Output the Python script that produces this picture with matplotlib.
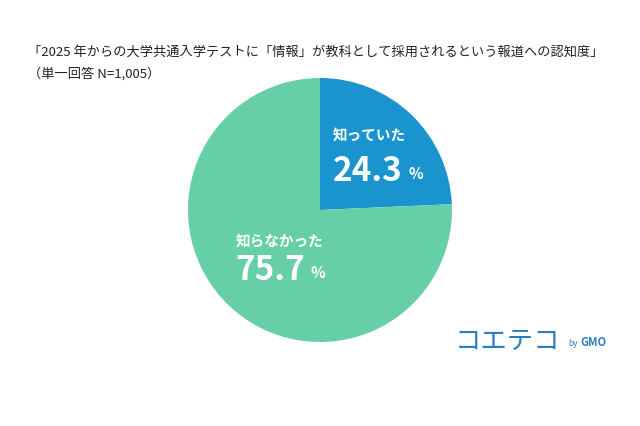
import matplotlib
matplotlib.use("Agg")
import matplotlib.pyplot as plt

labels = ["知っていた", "知らなかった"]
values = [24.3, 75.7]
colors = ["#1a94cf", "#67cfa7"]
title1 = "「2025 年からの大学共通入学テストに「情報」が教科として採用されるという報道への認知度」"
title2 = "（単一回答 N=1,005）"

plt.rcParams["font.family"] = "Noto Sans CJK JP"
fig = plt.figure(figsize=(6.4, 4.26), dpi=100)
ax = fig.add_axes([0.5 - 132/640, (426-210-132)/426, 264/640, 264/426])
ax.pie(values, colors=colors, startangle=90, counterclock=False,
       wedgeprops=dict(linewidth=0))
ax.set_aspect("equal")
ax.set_xlim(-1, 1); ax.set_ylim(-1, 1)

kw = dict(color="white", fontweight="bold", ha="left", va="center", clip_on=False)
ax.text(0.10, 0.57, labels[0], fontsize=10.5, **kw)
ax.text(0.10, 0.29, f"{values[0]}", fontsize=24, **kw)
ax.text(0.67, 0.27, "%", fontsize=11, **kw)
ax.text(-0.64, -0.23, labels[1], fontsize=10.5, **kw)
ax.text(-0.64, -0.46, f"{values[1]}", fontsize=24, **kw)
ax.text(-0.07, -0.48, "%", fontsize=11, **kw)

fig.text(28/640, 1 - 52/426, title1, fontsize=9.5, ha="left", va="center", color="#222222")
fig.text(28/640, 1 - 74/426, title2, fontsize=9.5, ha="left", va="center", color="#222222")
fig.text(455/640, 1 - 341/426, "コエテコ", fontsize=19, ha="left", va="center", color="#2a7fc4")
fig.text(568/640, 1 - 343/426, "by", fontsize=6, ha="left", va="center", color="#2a7fc4")
fig.text(580/640, 1 - 342/426, "GMO", fontsize=8, fontweight="bold", ha="left", va="center", color="#2a7fc4")

fig.savefig("out.png", dpi=100, facecolor="white")
